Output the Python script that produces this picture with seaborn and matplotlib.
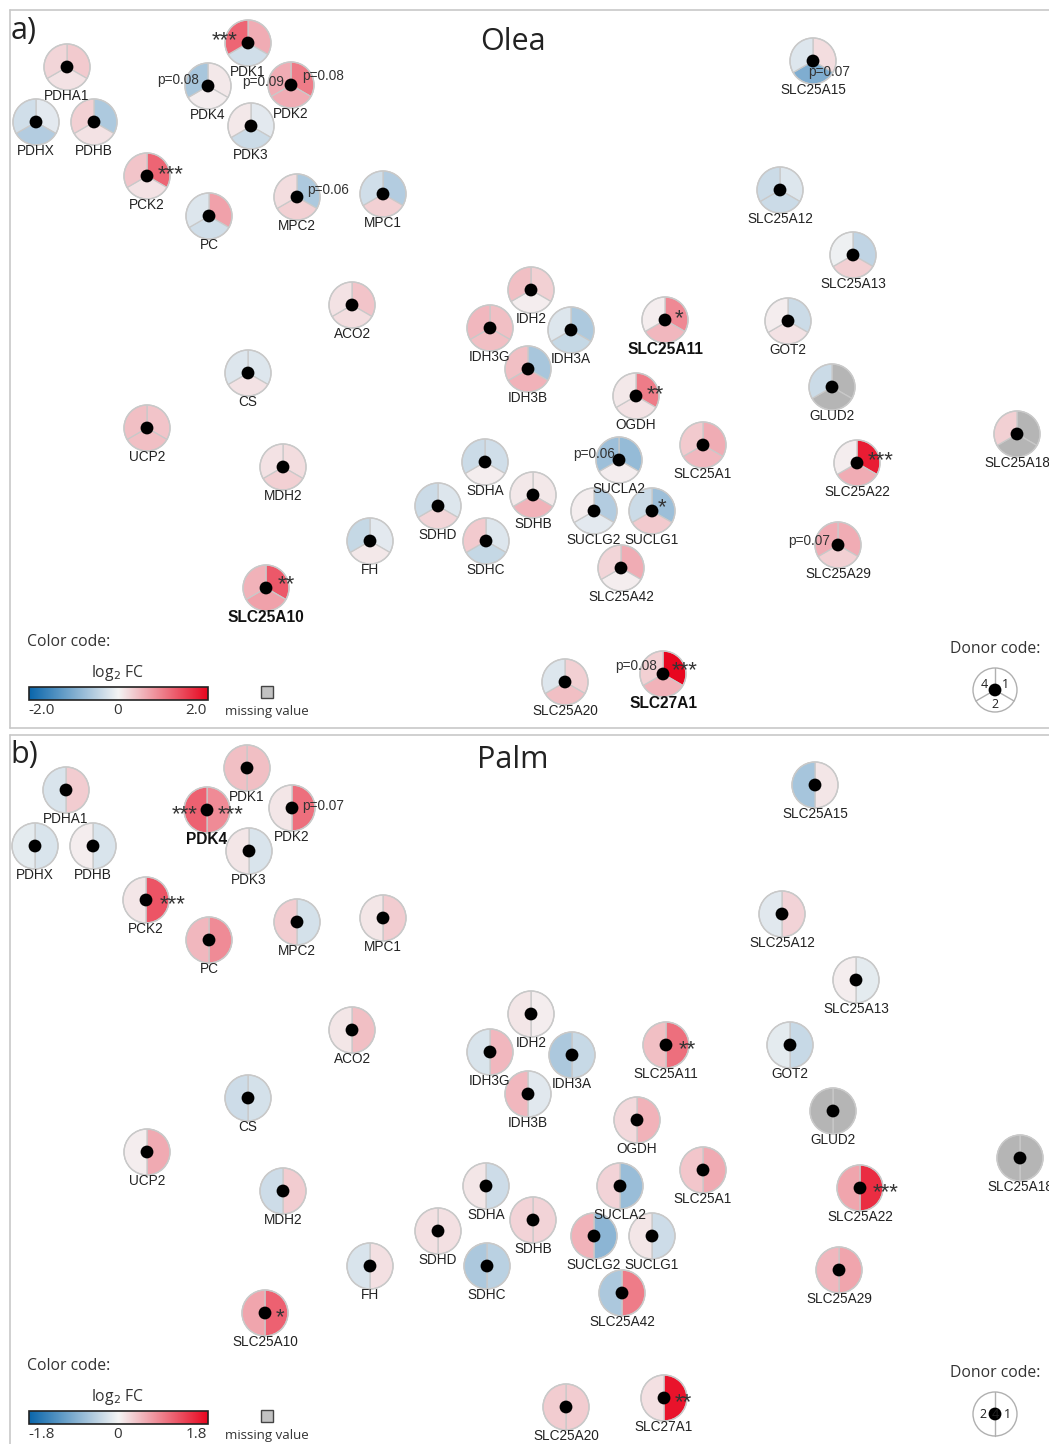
import numpy as np
import pandas as pd
import matplotlib
matplotlib.use("Agg")
import matplotlib.pyplot as plt
import seaborn as sns
from matplotlib.patches import Wedge, Rectangle, Circle
from matplotlib.colors import LinearSegmentedColormap, Normalize

sns.set_theme(style="white")
plt.rcParams["font.family"] = ["Liberation Sans", "DejaVu Sans"]
HEAD_FONT = ["Open Sans", "DejaVu Sans"]

# ---------------------------------------------------------------- data
genes = ["PDHA1", "PDHX", "PDHB", "PDK1", "PDK4", "PDK2", "PDK3", "PCK2", "PC",
         "MPC2", "MPC1", "ACO2", "CS", "UCP2", "MDH2", "IDH2", "IDH3G", "IDH3A",
         "IDH3B", "SLC25A11", "OGDH", "SLC25A1", "SUCLA2", "SDHA", "SDHB", "SDHD",
         "SDHC", "FH", "SUCLG2", "SUCLG1", "SLC25A42", "SLC25A10", "SLC25A15",
         "SLC25A12", "SLC25A13", "GOT2", "GLUD2", "SLC25A18", "SLC25A22",
         "SLC25A29", "SLC25A20", "SLC27A1"]

nan = np.nan
# Olea: log2 fold change per donor (donors 1, 2, 4)
olea_d1 = [0.35, -0.15, -0.6, 0.6, 0.1, 1.0, -0.15, 1.2, 0.7, -0.6, -0.55, 0.4,
           -0.2, 0.4, 0.2, 0.3, 0.45, -0.6, -0.65, 0.9, 1.0, 0.6, -0.8, -0.3,
           0.1, -0.2, -0.2, -0.15, -0.55, -0.75, 0.6, 1.3, 0.2, -0.2, -0.45,
           -0.35, nan, nan, 1.8, 0.6, 0.3, 2.0]
olea_d2 = [0.15, -0.55, 0.15, -0.3, 0.05, 0.6, -0.35, 0.15, -0.3, 0.3, 0.3, 0.2,
           0.15, 0.45, 0.3, 0.05, 0.45, -0.4, 0.55, 0.5, 0.15, 0.5, 0.05, 0.05,
           0.55, 0.25, -0.4, 0.1, -0.15, 0.35, 0.05, 0.7, -1.0, -0.35, 0.3,
           0.15, nan, nan, 0.6, 0.3, 0.45, 0.55]
olea_d4 = [0.25, -0.3, 0.3, 1.2, -0.65, 0.6, 0.1, 0.4, -0.2, 0.2, -0.3, 0.15,
           -0.2, 0.45, 0.15, 0.45, 0.5, -0.2, 0.45, 0.05, 0.1, 0.35, -0.75,
           -0.35, 0.1, -0.35, 0.35, -0.4, 0.05, -0.35, 0.25, 0.55, -0.2, -0.35,
           -0.05, 0.05, -0.35, 0.3, 0.05, 0.6, -0.2, 0.3]

# Palm: log2 fold change per donor (donors 1, 2)
palm_d1 = [0.3, -0.2, -0.2, 0.4, 0.8, 1.0, -0.2, 1.2, 0.8, -0.25, 0.3, 0.4,
           -0.25, 0.55, 0.3, 0.05, 0.45, -0.35, -0.15, 1.0, 0.5, 0.55, -0.7,
           -0.3, 0.25, 0.15, -0.45, 0.15, -0.8, -0.3, 0.9, 1.1, 0.1, 0.25, -0.12,
           -0.35, nan, nan, 1.5, 0.6, 0.3, 1.7]
palm_d2 = [-0.2, -0.12, 0.05, 0.4, 1.1, 0.1, 0.1, 0.1, 0.45, 0.3, 0.1, 0.1,
           -0.3, 0.05, -0.3, 0.1, -0.2, -0.55, 0.45, 0.4, 0.2, 0.35, 0.25, 0.1,
           0.25, 0.15, -0.55, -0.2, 0.5, 0.1, -0.55, 0.6, -0.6, -0.15, 0.05,
           -0.12, nan, nan, 0.6, 0.45, 0.3, 0.15]

olea_notes = [("PDK1", "***"), ("PDK4", "p=0.08"), ("PDK2", "p=0.09"),
              ("PDK2", "p=0.08"), ("PCK2", "***"), ("MPC2", "p=0.06"),
              ("SLC25A11", "*"), ("OGDH", "**"), ("SUCLA2", "p=0.06"),
              ("SUCLG1", "*"), ("SLC25A10", "**"), ("SLC25A15", "p=0.07"),
              ("SLC25A22", "***"), ("SLC25A29", "p=0.07"), ("SLC27A1", "p=0.08"),
              ("SLC27A1", "***")]
palm_notes = [("PDK4", "***"), ("PDK4", "***"), ("PDK2", "p=0.07"),
              ("PCK2", "***"), ("SLC25A11", "**"), ("SLC25A10", "*"),
              ("SLC25A22", "***"), ("SLC27A1", "**")]

olea_bold = ["SLC25A10", "SLC25A11", "SLC27A1"]
palm_bold = ["PDK4"]

# ---------------------------------------------------------------- layout
olea_x = [67, 36, 94, 248, 208, 291, 251, 147, 209, 297, 383, 352, 248, 147, 283,
          531, 490, 571, 528, 665, 636, 703, 619, 485, 533, 438, 486, 370, 594,
          652, 621, 266, 813, 780, 853, 788, 832, 1017, 857, 838, 565, 663]
olea_y = [67, 122, 122, 43, 86, 85, 126, 176, 216, 197, 194, 305, 373, 428, 467,
          290, 328, 330, 369, 320, 396, 445, 460, 462, 495, 506, 541, 541, 511,
          511, 568, 588, 61, 190, 255, 321, 387, 434, 463, 545, 682, 674]
palm_x = [66, 35, 93, 247, 207, 292, 249, 146, 209, 297, 383, 352, 248, 147, 283,
          531, 490, 572, 528, 666, 637, 703, 620, 486, 533, 438, 487, 370, 594,
          652, 622, 265, 815, 782, 856, 790, 833, 1020, 860, 839, 566, 664]
palm_y = [790, 846, 846, 768, 810, 808, 851, 900, 940, 922, 918, 1030, 1098, 1152,
          1191, 1014, 1052, 1055, 1094, 1045, 1120, 1170, 1186, 1186, 1220, 1231,
          1266, 1266, 1236, 1236, 1293, 1313, 785, 914, 980, 1045, 1111, 1158,
          1188, 1270, 1407, 1398]
# text offsets (px) of the significance notes, same order as the note lists
olea_note_off = [(-23, -2), (-30, -6), (-28, -3), (32, -9), (24, -1), (31, -7),
                 (14, -1), (19, -1), (-25, -6), (10, -3), (20, -3), (16, 11),
                 (24, -2), (-29, -4), (-27, -8), (22, -3)]
palm_note_off = [(-22, 5), (24, 5), (31, -2), (27, 5), (21, 5), (15, 5),
                 (26, 5), (19, 5)]

R = 23          # node radius (px)
EDGE = "#c9c9c9"
MISSING = "#b5b5b5"
cmap = LinearSegmentedColormap.from_list(
    "fc", ["#0a66ab", "#f4f4f4", "#e8061f"])

W, H = 1049, 1444
fig = plt.figure(figsize=(W / 100, H / 100), dpi=100)
ax = fig.add_axes([0, 0, 1, 1])


def draw_nodes(xs, ys, values, sectors, vmax, notes, note_off, bold):
    norm = Normalize(-vmax, vmax)
    for i, g in enumerate(genes):
        cx, cy = xs[i], ys[i]
        for vals, (p1, p2) in zip(values, sectors):
            v = vals[i]
            fc = MISSING if np.isnan(v) else cmap(norm(v))
            # y axis points down, so angles are mirrored
            ax.add_patch(Wedge((cx, cy), R, -p2, -p1, facecolor=fc,
                               edgecolor=EDGE, lw=0.9, zorder=2))
        ax.add_patch(Circle((cx, cy), R, fill=False, edgecolor=EDGE, lw=1.0,
                            zorder=3))
        is_bold = g in bold
        ax.text(cx, cy + 29, g, ha="center", va="center",
                fontsize=11.2 if is_bold else 9.8,
                color="#111111" if is_bold else "#222222",
                fontweight="bold" if is_bold else "normal", zorder=6)
    nodes = pd.DataFrame({"x": xs, "y": ys})
    sns.scatterplot(data=nodes, x="x", y="y", color="black", s=85,
                    edgecolor="none", legend=False, ax=ax, zorder=5)
    for (g, t), (dx, dy) in zip(notes, note_off):
        i = genes.index(g)
        star = t.startswith("*")
        ax.text(xs[i] + dx, ys[i] + dy, t, ha="center",
                va="center", fontsize=16 if star else 9.8, color="#333333",
                zorder=7)


def draw_legend(top, ticks, donor_sectors, donor_labels):
    ax.text(27, top, "Color code:", fontsize=11.3, family=HEAD_FONT,
            color="#333333", ha="left", va="center")
    ax.text(118, top + 31, r"log$_2$ FC", fontsize=11.3, family=HEAD_FONT,
            color="#333333", ha="center", va="center")
    y0, y1 = top + 45, top + 58
    grad = np.linspace(0, 1, 256)[None, :]
    ax.imshow(grad, extent=[29, 208, y1, y0], cmap=cmap, aspect="auto",
              zorder=3)
    ax.add_patch(Rectangle((29, y0), 179, 13, fill=False, edgecolor="#222222",
                           lw=1.2, zorder=4))
    for tx, tl in zip([42, 118, 196], ticks):
        ax.text(tx, top + 68, tl, fontsize=11, family=HEAD_FONT,
                color="#333333", ha="center", va="center")
    ax.add_patch(Rectangle((261, top + 44), 12, 12, facecolor="#c2c2c2",
                           edgecolor="#444444", lw=1.0, zorder=4))
    ax.text(267, top + 69, "missing value", fontsize=9.5, family=HEAD_FONT,
            color="#333333", ha="center", va="center")
    # donor code
    ax.text(995, top + 7, "Donor code:", fontsize=11.3, family=HEAD_FONT,
            color="#333333", ha="center", va="center")
    cx, cy = 995, top + 48
    ax.add_patch(Circle((cx, cy), 22, facecolor="white", edgecolor="#b0b0b0",
                        lw=1.0, zorder=3))
    for a in donor_sectors:
        ax.plot([cx, cx + 22 * np.cos(np.radians(a))],
                [cy, cy - 22 * np.sin(np.radians(a))], color="#b0b0b0",
                lw=1.0, zorder=4)
    ax.scatter([cx], [cy], s=85, color="black", zorder=5, edgecolor="none")
    for (a, rr), lab in zip(donor_labels, ["1", "2", "4"]):
        ax.text(cx + rr * np.cos(np.radians(a)), cy - rr * np.sin(np.radians(a)),
                lab, fontsize=9, family=HEAD_FONT, ha="center", va="center",
                color="#222222", zorder=6)


# panel frames
fc_line = "#c8c8c8"
ax.plot([10, W], [10, 10], color=fc_line, lw=1.2)
ax.plot([10, 10], [10, 728], color=fc_line, lw=1.2)
ax.plot([10, W], [728, 728], color=fc_line, lw=1.2)
ax.plot([10, W], [735, 735], color=fc_line, lw=1.2)
ax.plot([10, 10], [735, H], color=fc_line, lw=1.2)

# a) Olea: three sectors (donor 1 upper right, donor 2 bottom, donor 4 upper left)
draw_nodes(olea_x, olea_y, [olea_d1, olea_d2, olea_d4],
           [(-30, 90), (210, 330), (90, 210)], 2.0, olea_notes, olea_note_off,
           olea_bold)
ax.text(24, 31, "a)", fontsize=22, family=HEAD_FONT, color="#222222",
        ha="center", va="center")
ax.text(513, 42, "Olea", fontsize=22, family=HEAD_FONT, color="#222222",
        ha="center", va="center")
draw_legend(642, ["-2.0", "0", "2.0"], [90, -30, 210],
            [(30, 12), (270, 14), (150, 12)])

# b) Palm: two halves (donor 1 right, donor 2 left)
draw_nodes(palm_x, palm_y, [palm_d1, palm_d2], [(-90, 90), (90, 270)], 1.8,
           palm_notes, palm_note_off, palm_bold)
ax.text(24, 755, "b)", fontsize=22, family=HEAD_FONT, color="#222222",
        ha="center", va="center")
ax.text(513, 760, "Palm", fontsize=22, family=HEAD_FONT, color="#222222",
        ha="center", va="center")
draw_legend(1366, ["-1.8", "0", "1.8"], [90, -90],
            [(0, 12), (180, 12), (500, 0)])

ax.set_xlim(0, W)
ax.set_ylim(H, 0)
ax.set_axis_off()
fig.savefig("out.png", dpi=100)
